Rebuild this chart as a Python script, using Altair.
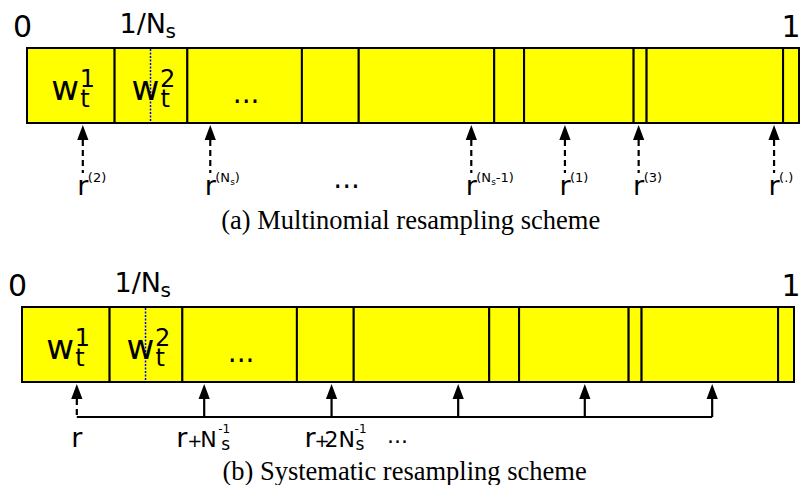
import altair as alt
import pandas as pd

# ---------------- data ----------------
# cumulative weight boundaries of the [0, 1] strip (same strip in both panels)
bounds = [0.0, 0.1135, 0.2077, 0.3561, 0.4297, 0.6052, 0.6439, 0.7858, 0.8026, 0.9794, 1.0]
inv_n = 0.16                      # position of the 1/N_s marker
# multinomial: independent uniform draws and their order labels
multi_r = [0.0723, 0.2374, 0.5755, 0.6968, 0.7923, 0.9677]
multi_lbl = ["2", "Ns", "Ns-1", "1", "3", "."]
# systematic: r, r+1/N, r+2/N, ...
sys_r = [0.071, 0.236, 0.401, 0.565, 0.729, 0.894]
captions = ["(a) Multinomial resampling scheme", "(b) Systematic resampling scheme"]

# ---------------- layout ----------------
PX = 772.0                 # pixels per unit of the strip
W, H = 793, 477
X0 = 19
XDOM = [-X0 / PX, (W - X0) / PX]
PANEL = {"a": (0.0, 0.0), "b": (-5.0, 259.0)}


def X(p, frac, dx=0.0):
    return frac + (PANEL[p][0] + dx) / PX


def Y(p, y):
    return y + PANEL[p][1]


xs = alt.Scale(domain=XDOM, nice=False, zero=False)
ys = alt.Scale(domain=[0, H], reverse=True, nice=False, zero=False)

# strip cells
cells = pd.DataFrame([
    dict(x=X(p, lo), x2=X(p, hi), y=Y(p, 40), y2=Y(p, 115))
    for p in "ab" for lo, hi in zip(bounds[:-1], bounds[1:])
])
# dotted 1/N marker
marker = pd.DataFrame([dict(x=X(p, inv_n), y=Y(p, 41), y2=Y(p, 114)) for p in "ab"])

# arrows
shafts, heads = [], []
for v in multi_r:
    shafts.append(dict(x=X("a", v), y=Y("a", 132), y2=Y("a", 165), dash="dashed"))
    heads.append(dict(x=X("a", v), y=Y("a", 124.5)))
for i, v in enumerate(sys_r):
    shafts.append(dict(x=X("b", v), y=Y("b", 132), y2=Y("b", 150),
                       dash="dashed" if i == 0 else "solid"))
    heads.append(dict(x=X("b", v), y=Y("b", 124.5)))
shafts = pd.DataFrame(shafts)
heads = pd.DataFrame(heads)
hline = pd.DataFrame([dict(x=X("b", sys_r[0]), x2=X("b", sys_r[-1]), y=Y("b", 150))])

# text pieces
left, center, serif = [], [], []


def put(lst, p, frac, dx, y, text, fs):
    lst.append(dict(x=X(p, frac, dx), y=Y(p, y), text=text, fs=fs))


for p, one_dx in (("a", -17.5), ("b", -12.5)):
    put(left, p, 0.0, -14, 29, "0", 30)
    put(left, p, 1.0, one_dx, 29, "1", 30)
    put(left, p, inv_n, -31, 25, "1/N", 27)
    put(left, p, inv_n, 15, 30, "s", 20)
    for k, sup in enumerate(["1", "2"]):
        c = (bounds[k] + bounds[k + 1]) / 2
        put(left, p, c, -19.5, 92, "w", 34)
        put(left, p, c, 9, 79, sup, 24)
        put(left, p, c, 9.5, 99, "t", 24)
    put(center, p, (bounds[2] + bounds[3]) / 2, 1.5, 95, "...", 28)

# multinomial labels
for v, lbl in zip(multi_r, multi_lbl):
    put(center, "a", v, 0, 187, "r", 27)
    if lbl.startswith("Ns"):
        put(left, "a", v, 5, 174, "(N", 13)
        put(left, "a", v, 20, 176.5, "s", 9)
        put(left, "a", v, 24.5, 174, lbl[2:] + ")", 13)
    else:
        put(left, "a", v, 5, 174, "(" + lbl + ")", 13)
put(center, "a", 0.414, 0, 180, "...", 28)

# systematic labels
put(center, "b", sys_r[0], 0, 180, "r", 27)
put(left, "b", sys_r[1], -28, 180, "r", 27)
put(left, "b", sys_r[1], -17, 180, "+", 18)
put(left, "b", sys_r[1], -4, 180, "N", 22)
put(left, "b", sys_r[1], 14, 166, "-1", 12)
put(left, "b", sys_r[1], 17, 183, "s", 17)
put(left, "b", sys_r[2], -27, 180, "r", 27)
put(left, "b", sys_r[2], -17, 180, "+", 18)
put(left, "b", sys_r[2], -7, 180, "2N", 22)
put(left, "b", sys_r[2], 23, 166, "-1", 12)
put(left, "b", sys_r[2], 24, 183, "s", 17)
put(center, "b", sys_r[2], 66, 176, "...", 22)

put(serif, "a", 0.497, 0, 221, captions[0], 26.5)
put(serif, "b", 0.4955, 0, 212.5, captions[1], 26.5)

left, center, serif = pd.DataFrame(left), pd.DataFrame(center), pd.DataFrame(serif)

ex = alt.X("x:Q", scale=xs, axis=None)
ey = alt.Y("y:Q", scale=ys, axis=None)

cell_layer = alt.Chart(cells).mark_rect(fill="#ffff00", stroke="black", strokeWidth=2).encode(
    x=ex, x2="x2:Q", y=ey, y2="y2:Q")
marker_layer = alt.Chart(marker).mark_rule(color="#0000ff", strokeWidth=1.5, strokeDash=[2, 1.5]).encode(
    x=ex, y=ey, y2="y2:Q")
shaft_layer = alt.Chart(shafts).mark_rule(color="black", strokeWidth=2.2).encode(
    x=ex, y=ey, y2="y2:Q",
    strokeDash=alt.StrokeDash("dash:N", scale=alt.Scale(domain=["dashed", "solid"], range=[[6, 4], [1, 0]]),
                              legend=None))
head_layer = alt.Chart(heads).mark_point(shape="M0,-1L0.75,1L-0.75,1Z", filled=True, size=225,
                                         color="black", opacity=1, strokeWidth=0).encode(x=ex, y=ey)
hline_layer = alt.Chart(hline).mark_rule(color="black", strokeWidth=2).encode(x=ex, x2="x2:Q", y=ey)


def text_layer(df, align, font):
    return alt.Chart(df).mark_text(align=align, baseline="alphabetic", font=font, color="black").encode(
        x=ex, y=ey, text="text:N", size=alt.Size("fs:Q", scale=None, legend=None))


chart = alt.layer(
    cell_layer, marker_layer, shaft_layer, head_layer, hline_layer,
    text_layer(left, "left", "DejaVu Sans"),
    text_layer(center, "center", "DejaVu Sans"),
    text_layer(serif, "center", "Liberation Serif"),
).properties(width=W, height=H, padding=0, autosize="none").configure_view(stroke=None)

chart.save("out.html", embed_options={"renderer": "svg", "actions": False})
